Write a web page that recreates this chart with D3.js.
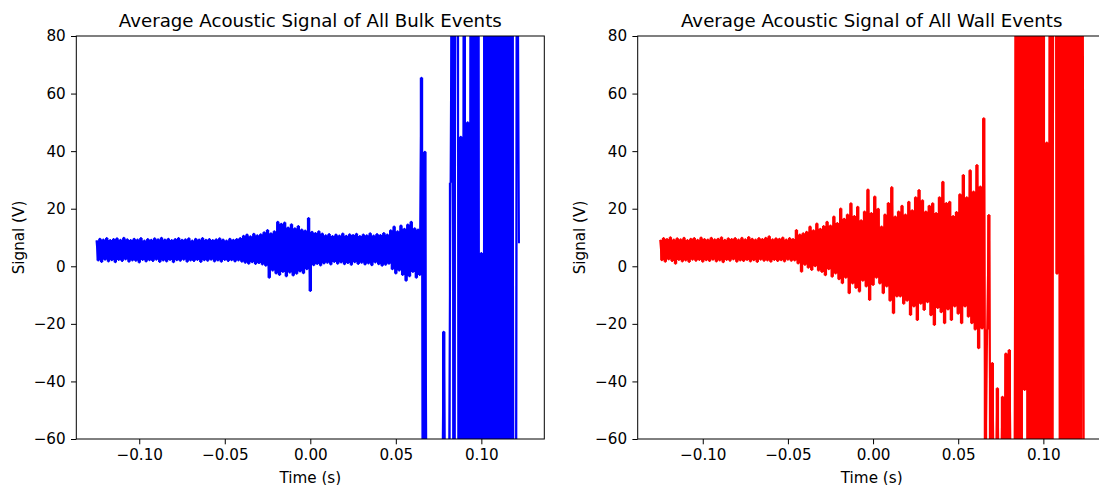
<!DOCTYPE html>
<html>
<head>
<meta charset="utf-8">
<script src="https://cdn.jsdelivr.net/npm/d3@7"></script>
<style>
body { margin: 0; background: #fff; }
svg { display: block; overflow: hidden; font-family: "DejaVu Sans", sans-serif; }
</style>
</head>
<body>
<div id="chart"></div>
<script>
// sample grid of both averaged signals (s)
var t0 = -0.125;
var dt = 0.001;

// averaged acoustic signal of bulk events (V), one value per sample
var bulkSignal = [
    9.0, 2.0, 9.6, 1.5, 9.3, 2.3, 9.8, 1.7, 9.1, 2.1,
    9.5, 1.4, 9.7, 2.2, 9.2, 1.8, 9.9, 2.4, 9.4, 1.6,
    9.1, 2.0, 9.6, 1.9, 9.3, 1.3, 9.8, 2.2, 9.0, 1.7,
    9.5, 2.1, 9.2, 1.8, 9.7, 2.3, 9.4, 1.5, 9.9, 2.0,
    9.3, 1.7, 9.6, 2.2, 9.1, 1.4, 9.5, 2.1, 9.8, 1.9,
    9.2, 2.3, 9.4, 1.6, 9.7, 2.0, 9.0, 1.8, 9.6, 2.2,
    9.3, 1.5, 9.8, 2.1, 9.2, 1.9, 9.5, 2.3, 9.1, 1.7,
    9.4, 2.0, 9.7, 1.6, 9.3, 2.2, 9.0, 1.8, 9.6, 2.1,
    9.2, 1.7, 9.5, 2.0, 9.8, 1.6,
    10.6, 1.2, 11.0, 0.9, 10.4, 1.4, 11.3, 0.8, 10.8, 1.1, 11.1, 0.6,
    11.8, 0.2, 12.6, -4.0, 11.5, -1.5, 12.2, -2.5,
    15.5, -3.0, 14.8, -2.0, 15.2, -3.5, 13.5, -2.2, 14.6, -3.2, 13.2, -2.6, 14.0, -1.8, 12.8, -2.4,
    12.4, -1.0,
    16.8, -8.6,
    12.0, 0.4, 11.6, 0.8, 12.2, 0.3, 11.4, 1.0,
    10.8, 1.2, 11.2, 0.6, 10.5, 1.5, 11.0, 0.9, 10.7, 1.3, 11.4, 0.7, 10.6, 1.1, 11.1, 0.5,
    10.9, 1.4, 11.3, 0.8, 10.5, 1.2, 11.0, 0.6, 10.8, 1.0, 11.5, 0.4, 10.7, 1.3, 11.2, 0.7,
    10.9, 0.2, 11.6, 0.5, 11.0, 0.9,
    12.5, -1.0, 13.8, -2.5, 12.2, -1.5, 14.2, -3.0, 13.0, -5.0, 14.5, -3.5, 15.5, -2.0, 13.2, -4.0, 12.8, -3.0,
    65.5, -90, 39.8, -90, -95, -100, -90, -100, -95, -90, -100, -95, -90, -22.7, -95, -100, -90, 29.0,
    150, -150, 150, 150, -150, 45, -150, 150, -150, 50, -150, 150, -150, 150, -150, 150, -150, 4.6,
    -150, 150, -150, 150, -150, 150, -150, 150, -150, 150, -150, 150, -150, 150, -150, 150, -150, 150,
    -150, -150, 150, 8.0
];

// averaged acoustic signal of wall events (V), one value per sample
var wallSignal = [
    9.2, 2.1, 9.8, 1.6, 9.5, 2.4, 10.1, 1.8, 9.3, 0.9,
    9.7, 2.2, 9.4, 1.7, 9.9, 2.0, 9.1, 1.5, 9.6, 2.3,
    9.8, 1.9, 9.2, 2.2, 10.0, 1.6, 9.5, 2.1, 9.3, 1.8,
    9.9, 2.3, 9.4, 1.7, 9.6, 2.0, 10.1, 1.4, 9.2, 2.2,
    9.7, 1.9, 9.5, 2.4, 9.8, 1.6, 9.3, 2.0, 9.9, 1.8,
    9.4, 2.2, 10.2, 1.7, 9.6, 2.1, 9.3, 1.5, 9.8, 2.3,
    9.5, 1.9, 9.9, 2.0, 10.4, 1.6, 9.4, 2.2, 9.7, 1.8,
    9.6, 2.1, 10.0, 1.7, 9.3, 2.3, 9.8, 1.9, 9.5, 2.0,
    12.6, 1.0, 11.0, -1.9, 11.5, 0.5, 12.0, -0.5, 13.8, -1.3,
    12.5, 0.0, 14.9, -1.5, 13.0, -2.0, 14.0, -3.1, 15.5, -1.0,
    14.2, -3.6, 17.3, -2.5, 15.0, -4.5, 20.1, -5.9, 16.5, -4.0,
    18.0, -9.4, 21.9, -6.0, 17.5, -7.5, 20.7, -8.8, 16.0, -5.0,
    19.0, -7.0, 26.7, -11.7, 18.5, -6.5, 24.2, -4.0, 20.0, -6.0,
    13.8, -9.4, 18.0, -7.0, 22.0, -12.0, 27.5, -16.3, 17.3, -10.5,
    19.0, -10.5, 21.0, -13.0, 18.0, -12.0, 22.4, -16.9, 19.5, -14.0,
    24.0, -18.7, 26.5, -13.0, 22.9, -15.2, 19.0, -12.5, 21.0, -17.0,
    21.9, -20.4, 18.5, -14.5, 24.0, -16.0, 29.4, -19.8, 22.0, -15.0,
    22.4, -18.7, 17.5, -14.0, 18.9, -16.5, 25.0, -19.8, 31.7, -14.0,
    24.0, -17.5, 33.4, -19.8, 26.0, -22.0, 35.2, -28.5, 27.7, -21.6,
    51.4, -70, -22, 17.8, -70, -33.6, -80, -80, -42.4, -80,
    -80, -45.3, -80, -30.3, -80, -29.1, -80, -90, -90,
    150, -150, 150, -150, 150, -43, 150, -150, 150, -150,
    150, -150, 150, -150, 150, -150, 150, -150, 43, -150,
    150, -150, 150, 150, -2.6, 150, -150, 150, -150, 150,
    -150, 150, -150, 150, -150, 150, -150, 150, -150, 150, -150
];

var titles = ["Average Acoustic Signal of All Bulk Events", "Average Acoustic Signal of All Wall Events"];
var colors = ["#0000ff", "#ff0000"];
var xTicks = [-0.10, -0.05, 0.00, 0.05, 0.10];
var yTicks = [-60, -40, -20, 0, 20, 40, 60, 80];
var xLabel = "Time (s)";
var yLabel = "Signal (V)";

var svgWidth = 1099;
var svgHeight = 485;
var panelWidth = 468;
var panelHeight = 403;
var panelTop = 36;
var tickFont = "15.2px";
var titleFont = "18.2px";

var svg = d3.select("#chart").append("svg")
    .attr("width", svgWidth).attr("height", svgHeight);

function drawPanel(idx, left, signal, xDomain) {
    var g = svg.append("g").attr("transform", `translate(${left}, ${panelTop})`);

    var x = d3.scaleLinear().domain(xDomain).range([0, panelWidth]);
    var y = d3.scaleLinear().domain([-60, 80]).range([panelHeight, 0]);

    g.append("clipPath").attr("id", "clip" + idx)
        .append("rect").attr("width", panelWidth).attr("height", panelHeight);

    var plot = g.append("g").attr("clip-path", `url(#clip${idx})`);

    // the trace swings between neighbouring samples faster than a pixel,
    // so the span each segment covers is filled as a solid band
    var next = (i) => signal[Math.min(i + 1, signal.length - 1)];
    var band = d3.area()
        .x((d, i) => x(t0 + i * dt))
        .y0((d, i) => y(Math.min(d, next(i))))
        .y1((d, i) => y(Math.max(d, next(i))))
        .curve(d3.curveStepAfter);

    plot.append("path").datum(signal.slice(0, -1))
        .attr("fill", colors[idx]).attr("stroke", "none")
        .attr("d", band);

    var line = d3.line()
        .x((d, i) => x(t0 + i * dt))
        .y(d => y(d));

    plot.append("path").datum(signal)
        .attr("fill", "none").attr("stroke", colors[idx])
        .attr("stroke-width", 2).attr("stroke-linejoin", "round")
        .attr("d", line);

    var bottomAxis = d3.axisBottom(x).tickValues(xTicks)
        .tickFormat(d3.format(".2f")).tickSize(5.3).tickPadding(5.3);
    var leftAxis = d3.axisLeft(y).tickValues(yTicks)
        .tickFormat(d3.format("d")).tickSize(5.3).tickPadding(5.3);

    var xg = g.append("g").attr("transform", `translate(0, ${panelHeight})`).call(bottomAxis);
    var yg = g.append("g").call(leftAxis);
    [xg, yg].forEach(a => {
        a.select(".domain").remove();
        a.selectAll("line").attr("stroke", "#000");
        a.selectAll("text").attr("fill", "#000").style("font-size", tickFont)
            .style("font-family", "'DejaVu Sans', sans-serif");
    });

    g.append("rect").attr("width", panelWidth).attr("height", panelHeight)
        .attr("fill", "none").attr("stroke", "#000").attr("stroke-width", 1);

    g.append("text").attr("x", panelWidth / 2).attr("y", -9.1)
        .attr("text-anchor", "middle").style("font-size", titleFont).text(titles[idx]);

    g.append("text").attr("x", panelWidth / 2).attr("y", panelHeight + 43.5)
        .attr("text-anchor", "middle").style("font-size", tickFont).text(xLabel);

    g.append("text").attr("transform", "rotate(-90)")
        .attr("x", -panelHeight / 2).attr("y", -52.8)
        .attr("text-anchor", "middle").style("font-size", tickFont).text(yLabel);
}

drawPanel(0, 76.3, bulkSignal, [-0.1368, 0.1368]);
drawPanel(1, 637.7, wallSignal, [-0.1382, 0.1366]);
</script>
</body>
</html>
